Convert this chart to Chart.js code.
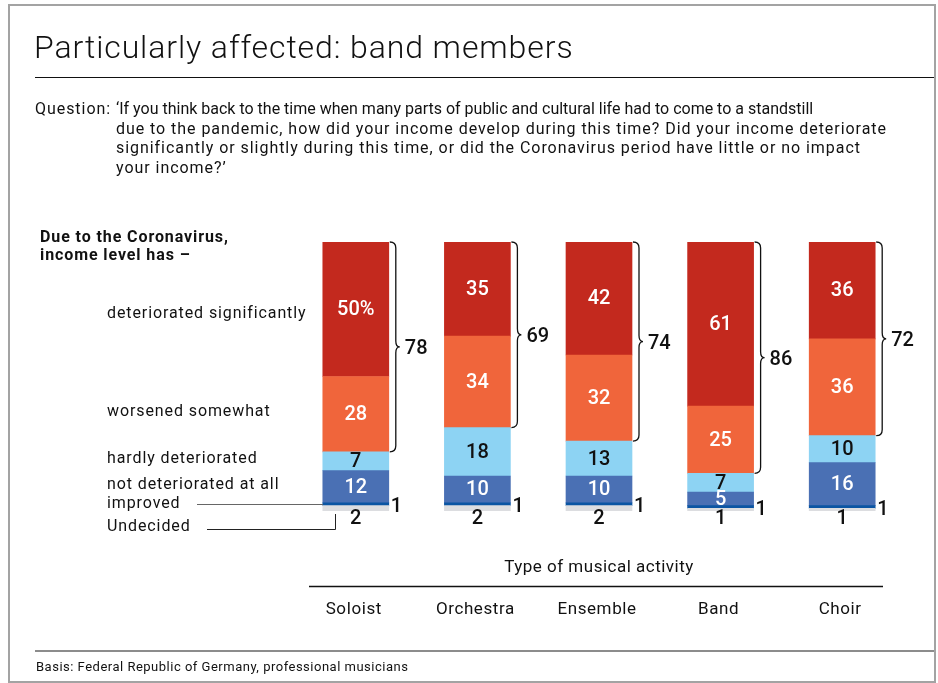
<!DOCTYPE html>
<html>
<head>
<meta charset="utf-8">
<script src="https://cdn.jsdelivr.net/npm/chart.js@4/dist/chart.umd.min.js"></script>
<style>
    body { margin: 0; background: #fff; color: #111; font-family: Roboto, "Liberation Sans", Arial, sans-serif; }
    #chart { position: absolute; left: 0; top: 0; }
    #frame { position: absolute; left: 8px; top: 4px; width: 924px; height: 675px; border: 2px solid #a3a3a3; }
    .rule { position: absolute; left: 35px; width: 899px; }
    #title { position: absolute; left: 34px; top: 28px; font-size: 32px; line-height: 38px; font-weight: 300; letter-spacing: 0.9px; white-space: nowrap; }
    #question { position: absolute; left: 35px; top: 99px; font-size: 16px; line-height: 19.7px; white-space: nowrap; letter-spacing: 0.95px; }
    #question .q { position: absolute; left: 0; top: 0; }
    #question .body { position: absolute; left: 81px; top: 0; }
    #question .tight { letter-spacing: 0; }
    #footer { position: absolute; left: 36px; top: 659px; font-size: 13px; line-height: 16px; letter-spacing: 0.5px; white-space: nowrap; }
</style>
</head>
<body>
<canvas id="chart" width="938" height="683"></canvas>
<div id="frame"></div>
<div id="title">Particularly affected: band members</div>
<div class="rule" style="top:77px;height:1px;background:#111;"></div>
<div id="question">
    <span class="q">Question:</span>
    <div class="body">
        <div class="tight">‘If you think back to the time when many parts of public and cultural life had to come to a standstill</div>
        <div>due to the pandemic, how did your income develop during this time? Did your income deteriorate</div>
        <div>significantly or slightly during this time, or did the Coronavirus period have little or no impact</div>
        <div>your income?’</div>
    </div>
</div>
<div class="rule" style="top:650px;height:2px;background:#8c8c8c;"></div>
<div id="footer">Basis: Federal Republic of Germany, professional musicians</div>

<script>
const categories = ['Soloist', 'Orchestra', 'Ensemble', 'Band', 'Choir'];
const seriesNames = ['Undecided', 'improved', 'not deteriorated at all', 'hardly deteriorated', 'worsened somewhat', 'deteriorated significantly'];
const undecided = [2, 2, 2, 1, 1];
const improved = [1, 1, 1, 1, 1];
const notDeteriorated = [12, 10, 10, 5, 16];
const hardlyDeteriorated = [7, 18, 13, 7, 10];
const worsenedSomewhat = [28, 34, 32, 25, 36];
const deterioratedSignificantly = [50, 35, 42, 61, 36];
const braceTotals = [78, 69, 74, 86, 72];

const FONT = 'Roboto, "Liberation Sans", Arial, sans-serif';
const colors = ['#dcdde0', '#0b55a3', '#4a70b4', '#8dd3f3', '#f0653b', '#c3291e'];
const labelColors = ['#111', '#111', '#fff', '#111', '#fff', '#fff'];

// values inside / next to the bars
const barLabels = {
    id: 'barLabels',
    afterDatasetsDraw(chart) {
        const ctx = chart.ctx;
        ctx.save();
        ctx.font = '500 20px ' + FONT;
        ctx.textBaseline = 'middle';
        chart.data.datasets.forEach((ds, di) => {
            chart.getDatasetMeta(di).data.forEach((bar, i) => {
                const v = ds.data[i];
                const half = bar.width / 2;
                ctx.fillStyle = labelColors[di];
                if (di === 0) {
                    ctx.textAlign = 'center';
                    ctx.fillText(v, bar.x, bar.base + 8);
                } else if (di === 1) {
                    ctx.textAlign = 'left';
                    ctx.fillText(v, bar.x + half + 2, (bar.y + bar.base) / 2 + 3);
                } else {
                    ctx.textAlign = 'center';
                    const txt = (di === 5 && i === 0) ? v + '%' : String(v);
                    ctx.fillText(txt, bar.x, (bar.y + bar.base) / 2 + 1);
                }
            });
        });
        ctx.restore();
    }
};

// curly braces around the two "worse" segments
const braces = {
    id: 'braces',
    afterDatasetsDraw(chart) {
        const ctx = chart.ctx;
        const top = chart.getDatasetMeta(5).data;
        const low = chart.getDatasetMeta(4).data;
        ctx.save();
        ctx.strokeStyle = '#111';
        ctx.lineWidth = 1.3;
        ctx.fillStyle = '#111';
        ctx.font = '500 20px ' + FONT;
        ctx.textBaseline = 'middle';
        ctx.textAlign = 'left';
        top.forEach((bar, i) => {
            const right = bar.x + bar.width / 2;
            const y0 = bar.y;
            const y1 = low[i].base;
            const mid = (y0 + y1) / 2;
            const x0 = right + 1, x1 = right + 7, x2 = right + 11, r = 6;
            ctx.beginPath();
            ctx.moveTo(x0, y0);
            ctx.quadraticCurveTo(x1, y0, x1, y0 + r);
            ctx.lineTo(x1, mid - r);
            ctx.quadraticCurveTo(x1, mid, x2, mid);
            ctx.quadraticCurveTo(x1, mid, x1, mid + r);
            ctx.lineTo(x1, y1 - r);
            ctx.quadraticCurveTo(x1, y1, x0, y1);
            ctx.stroke();
            ctx.fillText(braceTotals[i], right + 16, mid + 2);
        });
        ctx.restore();
    }
};

// legend text on the left, leader lines, category axis
const annotations = {
    id: 'annotations',
    afterDraw(chart) {
        const ctx = chart.ctx;
        const area = chart.chartArea;
        const x = chart.scales.x;
        ctx.save();
        ctx.fillStyle = '#111';
        ctx.textBaseline = 'middle';
        ctx.textAlign = 'left';
        ctx.letterSpacing = '0.9px';

        ctx.font = 'bold 16px ' + FONT;
        ctx.fillText('Due to the Coronavirus,', 40, 238);
        ctx.fillText('income level has –', 40, 256);

        ctx.font = '16px ' + FONT;
        const ys = [527, 504, 485, 459, 412, 314];
        seriesNames.forEach((name, k) => ctx.fillText(name, 107, ys[k]));

        ctx.strokeStyle = '#666';
        ctx.lineWidth = 1;
        ctx.beginPath();
        ctx.moveTo(197, 504.5);
        ctx.lineTo(323, 504.5);
        ctx.stroke();
        ctx.strokeStyle = '#222';
        ctx.beginPath();
        ctx.moveTo(207, 529.5);
        ctx.lineTo(335.5, 529.5);
        ctx.lineTo(335.5, 514);
        ctx.stroke();

        ctx.textAlign = 'center';
        ctx.font = '17px ' + FONT;
        ctx.letterSpacing = '0.5px';
        ctx.fillText('Type of musical activity', (area.left + area.right) / 2, 568);
        ctx.strokeStyle = '#111';
        ctx.lineWidth = 1.5;
        ctx.beginPath();
        ctx.moveTo(309, 586.5);
        ctx.lineTo(883, 586.5);
        ctx.stroke();
        ctx.letterSpacing = '0.6px';
        categories.forEach((c, i) => ctx.fillText(c, x.getPixelForValue(i) - 2, 610));
        ctx.restore();
    }
};

const seriesData = [undecided, improved, notDeteriorated, hardlyDeteriorated, worsenedSomewhat, deterioratedSignificantly];

new Chart(document.getElementById('chart').getContext('2d'), {
    type: 'bar',
    data: {
        labels: categories,
        datasets: seriesNames.map((name, k) => ({
            label: name,
            data: seriesData[k],
            backgroundColor: colors[k],
            borderWidth: 0,
            barThickness: 66
        }))
    },
    options: {
        responsive: false,
        animation: false,
        devicePixelRatio: 1,
        layout: { padding: { left: 295, right: 35, top: 242, bottom: 172 } },
        plugins: {
            legend: { display: false },
            tooltip: { enabled: false },
            title: { display: false }
        },
        scales: {
            x: { stacked: true, display: false },
            y: { stacked: true, display: false, min: 0, max: 100 }
        }
    },
    plugins: [barLabels, braces, annotations]
});
</script>
</body>
</html>
